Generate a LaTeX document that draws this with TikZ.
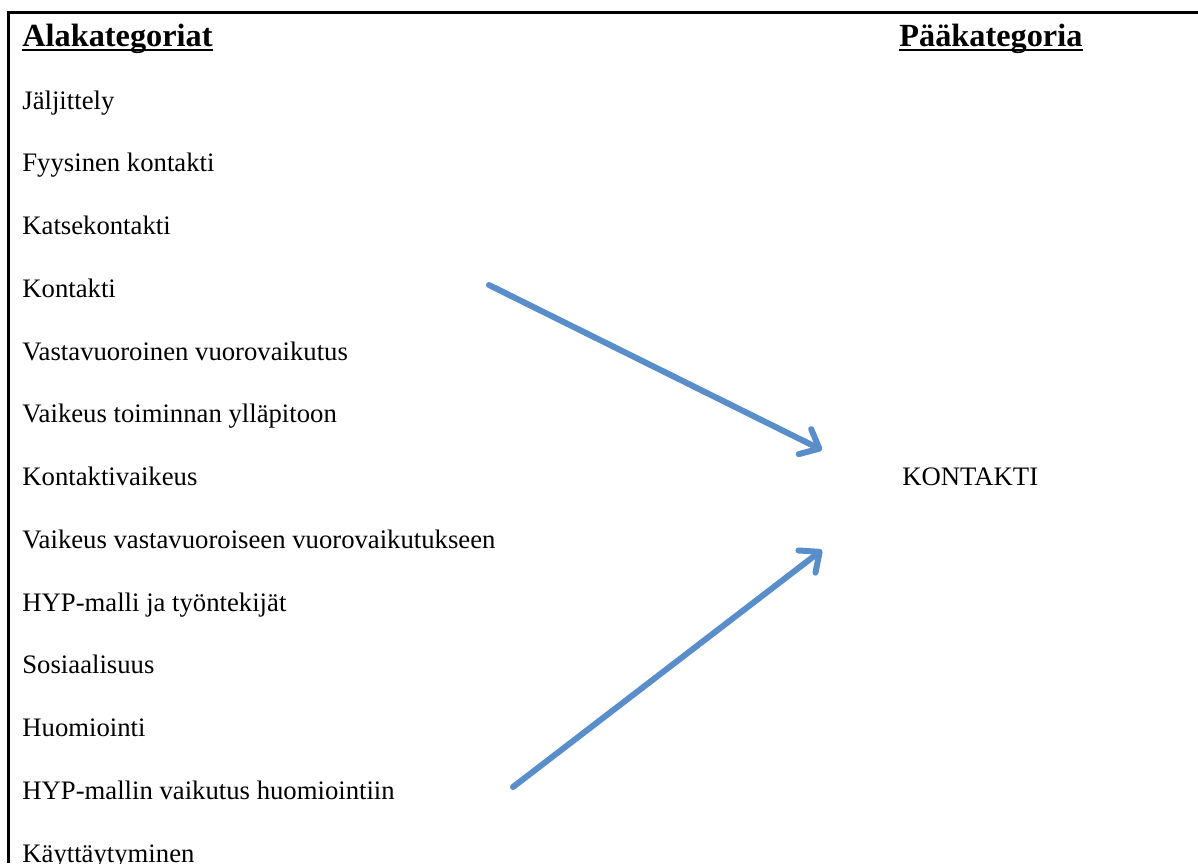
\documentclass[tikz,border=0pt]{standalone}
\usepackage{fontspec}
\setmainfont{Liberation Serif}
\usetikzlibrary{arrows.meta}
\definecolor{arrowblue}{HTML}{5A8ECB}
\begin{document}
\begin{tikzpicture}[x=0.5pt,y=-0.5pt,
  item/.style={anchor=base west,inner sep=0pt,font=\fontsize{13.35}{16}\selectfont},
  head/.style={anchor=base west,inner sep=0pt,font=\fontsize{16.15}{19}\selectfont\bfseries},
  frame/.style={line width=1.5pt,black},
  uline/.style={line width=0.65pt,black},
  bluearrow/.style={line width=3pt,arrowblue,line cap=round,-{Straight Barb[length=8pt,width=14pt,line width=3pt,round]}}]
\useasboundingbox (0,0) rectangle (1198,863);
\draw[frame] (8,863) -- (8,12) -- (1198,12);
\node[head] (h1) at (22,46) {Alakategoriat};
\node[head] (h2) at (899,46) {Pääkategoria};
\draw[uline] ([yshift=-2pt]h1.base west) -- ([yshift=-2pt]h1.base east);
\draw[uline] ([yshift=-2pt]h2.base west) -- ([yshift=-2pt]h2.base east);
\node[item] (a0) at (22,109) {Jäljittely};
\node[item] (a1) at (22,171.75) {Fyysinen kontakti};
\node[item] (a2) at (22,234.5) {Katsekontakti};
\node[item] (a3) at (22,297.25) {Kontakti};
\node[item] (a4) at (22,360) {Vastavuoroinen vuorovaikutus};
\node[item] (a5) at (22,422.75) {Vaikeus toiminnan ylläpitoon};
\node[item] (a6) at (22,485.5) {Kontaktivaikeus};
\node[item] (a7) at (22,548.25) {Vaikeus vastavuoroiseen vuorovaikutukseen};
\node[item] (a8) at (22,611) {HYP-malli ja työntekijät};
\node[item] (a9) at (22,673.75) {Sosiaalisuus};
\node[item] (a10) at (22,736.5) {Huomiointi};
\node[item] (a11) at (22,799.25) {HYP-mallin vaikutus huomiointiin};
\node[item] (a12) at (22,862) {Käyttäytyminen};
\node[item] (k) at (902,485.5) {KONTAKTI};
\coordinate (s1) at (489,285);
\coordinate (t1) at (822,450);
\coordinate (s2) at (513,787);
\coordinate (t2) at (822,550);
\draw[bluearrow] (s1) -- (t1);
\draw[bluearrow] (s2) -- (t2);
\end{tikzpicture}
\end{document}
